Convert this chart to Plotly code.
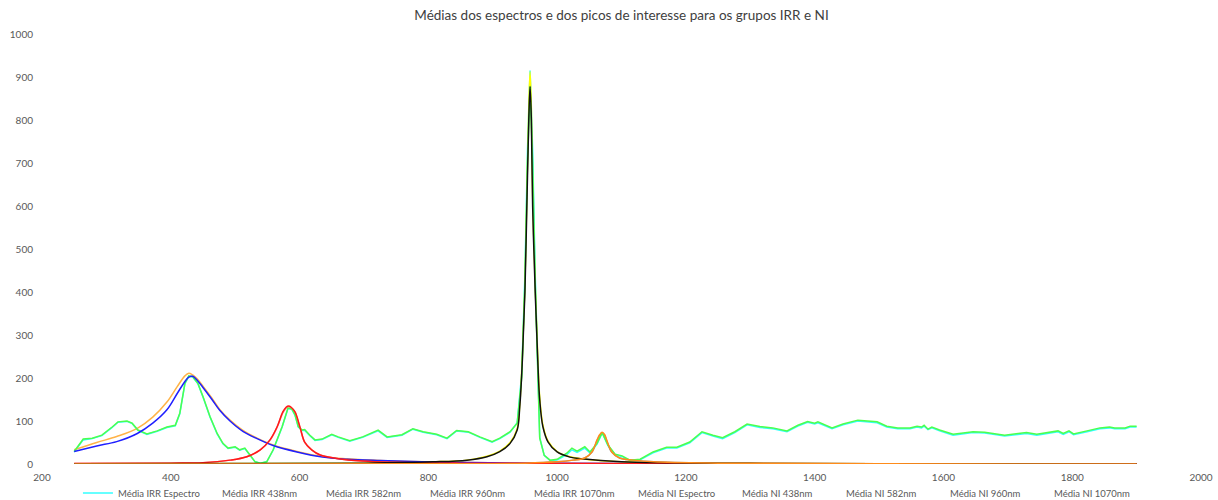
import plotly.graph_objects as go

# Mean spectra (wavelength in nm, intensity in counts)
espectro_nm = [250, 264, 278, 293, 309, 318, 332, 340, 349, 363, 379, 394, 407, 414, 422, 428, 434, 442,
               450, 461, 472, 481, 489, 500, 507, 515, 523, 531, 539, 549, 559, 573, 582, 588, 593, 598,
               604, 608, 616, 624, 635, 650, 660, 678, 698, 722, 736, 759, 776, 792, 813, 829, 844, 862,
               880, 899, 911, 927, 938, 945, 950, 954, 958, 962, 966, 970, 973, 980, 989, 1000, 1015,
               1023, 1031, 1043, 1051, 1062, 1070, 1079, 1090, 1101, 1113, 1129, 1149, 1170, 1186, 1206,
               1225, 1242, 1257, 1276, 1295, 1315, 1335, 1357, 1374, 1389, 1400, 1405, 1427, 1444, 1467,
               1497, 1512, 1529, 1548, 1559, 1566, 1570, 1576, 1582, 1594, 1615, 1646, 1664, 1675, 1695,
               1729, 1745, 1778, 1786, 1795, 1802, 1823, 1843, 1858, 1866, 1882, 1890, 1900]

irr_espectro = [28, 56, 59, 66, 85, 97, 99, 94, 78, 69, 76, 85, 89, 117, 187, 204, 203, 187,
                156, 109, 70, 47, 36, 39, 32, 36, 20, 5, 2, 5, 32, 86, 129, 127, 113, 86,
                78, 78, 66, 55, 57, 68, 62, 53, 62, 77, 62, 67, 81, 74, 68, 59, 77, 74,
                62, 51, 59, 74, 96, 210, 440, 730, 915, 730, 440, 210, 62, 20, 8, 9, 22,
                33, 27, 37, 26, 46, 72, 43, 22, 17, 8, 10, 26, 37, 37, 49,
                73, 65, 59, 73, 91, 85, 82, 75, 88, 97, 93, 96, 82, 91, 100,
                96, 86, 82, 82, 86, 84, 88, 80, 84, 77, 67, 73, 72, 69, 65,
                71, 67, 75, 69, 75, 68, 75, 82, 84, 82, 82, 86, 86]

ni_espectro = [29, 58, 60, 67, 86, 98, 100, 95, 79, 70, 77, 86, 90, 118, 188, 205, 203, 188,
               157, 110, 71, 48, 37, 40, 33, 37, 21, 5, 2, 5, 33, 87, 130, 128, 114, 87,
               79, 80, 67, 56, 58, 69, 63, 54, 63, 79, 63, 68, 82, 75, 69, 60, 78, 75,
               63, 52, 60, 75, 95, 200, 420, 700, 878, 700, 420, 200, 60, 20, 9, 11, 25,
               37, 30, 40, 28, 48, 73, 44, 23, 19, 9, 11, 28, 39, 39, 51,
               75, 67, 61, 75, 93, 87, 84, 77, 90, 99, 95, 98, 84, 93, 102,
               98, 88, 84, 84, 88, 86, 90, 81, 86, 79, 69, 75, 74, 71, 67,
               73, 69, 77, 71, 77, 70, 77, 84, 86, 84, 84, 88, 88]

# Fitted peaks of interest
pico438_nm = [250, 285, 316, 348, 372, 394, 410, 422, 428, 434, 441, 450, 464, 476, 492, 512, 534,
              559, 596, 636, 674, 725, 829, 950, 1100, 1300, 1500, 1700, 1900]
irr_438 = [33, 50, 64, 83, 109, 144, 180, 205, 211, 207, 198, 181, 153, 127, 102, 78, 60,
           44, 29, 17, 12, 8, 4, 2, 1, 0.5, 0.3, 0.2, 0.1]
ni_438 = [29, 42, 52, 71, 95, 126, 164, 192, 202, 204, 195, 178, 150, 125, 100, 76, 59,
          43, 28, 16, 11, 8, 4, 2, 1, 0.5, 0.3, 0.2, 0.1]

pico582_nm = [250, 400, 450, 492, 518, 539, 554, 565, 574, 579, 583, 587, 593, 601, 608, 619, 632,
              658, 698, 750, 850, 1000, 1200, 1500, 1900]
irr_582 = [1, 2, 3, 9, 17, 33, 55, 85, 119, 130, 133, 130, 119, 83, 50, 32, 21,
           13, 7, 4, 2, 1, 0.5, 0.2, 0.1]
ni_582 = [1, 2, 3, 9, 17, 33, 56, 86, 121, 132, 135, 132, 121, 84, 51, 33, 21,
          13, 7, 4, 2, 1, 0.5, 0.2, 0.1]

pico960_nm = [250, 500, 700, 807, 860, 891, 911, 927, 938, 942, 946, 950, 953, 956, 958, 960, 962,
              966, 970, 973, 978, 986, 1000, 1020, 1038, 1100, 1300, 1600, 1900]
irr_960 = [0.3, 1, 2, 5, 9, 18, 30, 50, 82, 138, 250, 415, 625, 830, 912, 830, 625,
           415, 250, 155, 90, 53, 29, 17, 12, 5, 1.5, 0.5, 0.2]
ni_960 = [0.3, 1, 2, 5, 9, 17, 29, 48, 79, 133, 240, 400, 600, 800, 878, 800, 600,
          400, 240, 149, 86, 51, 28, 16, 12, 5, 1.5, 0.5, 0.2]

pico1070_nm = [250, 800, 950, 1000, 1025, 1043, 1054, 1062, 1066, 1070, 1074, 1077, 1085, 1097,
               1118, 1150, 1250, 1500, 1900]
irr_1070 = [0, 0.5, 2, 5, 9, 14, 27, 54, 66, 72, 66, 54, 27, 14, 9, 5, 2, 0.5, 0.1]
ni_1070 = [0, 0.5, 2, 5, 9, 14, 28, 56, 68, 74, 68, 56, 28, 14, 9, 5, 2, 0.5, 0.1]

series = [
    ("Média IRR Espectro", espectro_nm, irr_espectro, "#33ffff", "linear"),
    ("Média IRR 438nm", pico438_nm, irr_438, "#ffb347", "spline"),
    ("Média IRR 582nm", pico582_nm, irr_582, "#ff7f7f", "spline"),
    ("Média IRR 960nm", pico960_nm, irr_960, "#ffff00", "spline"),
    ("Média IRR 1070nm", pico1070_nm, irr_1070, "#999999", "spline"),
    ("Média NI Espectro", espectro_nm, ni_espectro, "#4dff4d", "linear"),
    ("Média NI 438nm", pico438_nm, ni_438, "#1f1fff", "spline"),
    ("Média NI 582nm", pico582_nm, ni_582, "#ff1a1a", "spline"),
    ("Média NI 960nm", pico960_nm, ni_960, "#111111", "spline"),
    ("Média NI 1070nm", pico1070_nm, ni_1070, "#ff8c1a", "spline"),
]

fig = go.Figure()
for i, (name, xs, ys, color, shape) in enumerate(series):
    # only the first series keeps a coloured key in the legend; the other
    # entries are text-only labels sharing the same legend group
    fig.add_trace(go.Scatter(
        x=xs, y=ys, name=name, mode="lines", legendgroup=name,
        showlegend=(i == 0),
        line=dict(color=color, width=1.5, shape=shape),
    ))
    if i > 0:
        fig.add_trace(go.Scatter(
            x=[None], y=[None], name=name, mode="lines", legendgroup=name,
            line=dict(color="rgba(0,0,0,0)", width=1.5),
        ))

# blank trailing legend slot so the last label has room to the right
fig.add_trace(go.Scatter(x=[None], y=[None], name=" ", mode="lines",
                         line=dict(color="rgba(0,0,0,0)"), hoverinfo="skip"))

font_family = "Lato, 'Open Sans', sans-serif"

fig.update_layout(
    width=1218, height=500,
    margin=dict(l=42, r=17, t=34, b=36, autoexpand=False),
    paper_bgcolor="white", plot_bgcolor="white",
    font=dict(family=font_family, size=10, color="#595959"),
    title=dict(
        text="Médias dos espectros e dos picos de interesse para os grupos IRR e NI",
        x=0.5, xref="paper", xanchor="center",
        y=0.97, yref="container", yanchor="middle",
        font=dict(family=font_family, size=13.5, color="#404040"),
    ),
    xaxis=dict(range=[200, 2000], dtick=200, tick0=200, showgrid=False, zeroline=False,
               showline=False, ticks="", ticklabelstandoff=6),
    yaxis=dict(range=[0, 1000], dtick=100, showgrid=False, zeroline=False,
               showline=False, ticks="", ticklabelstandoff=8),
    legend=dict(orientation="h", xref="container", x=0.064, xanchor="left",
                yref="paper", y=-0.0674, yanchor="middle",
                font=dict(size=9.5, color="#595959"), itemwidth=30,
                entrywidth=59, entrywidthmode="pixels", bgcolor="rgba(0,0,0,0)",
                tracegroupgap=0),
    showlegend=True,
)

fig.write_html("out.html")
